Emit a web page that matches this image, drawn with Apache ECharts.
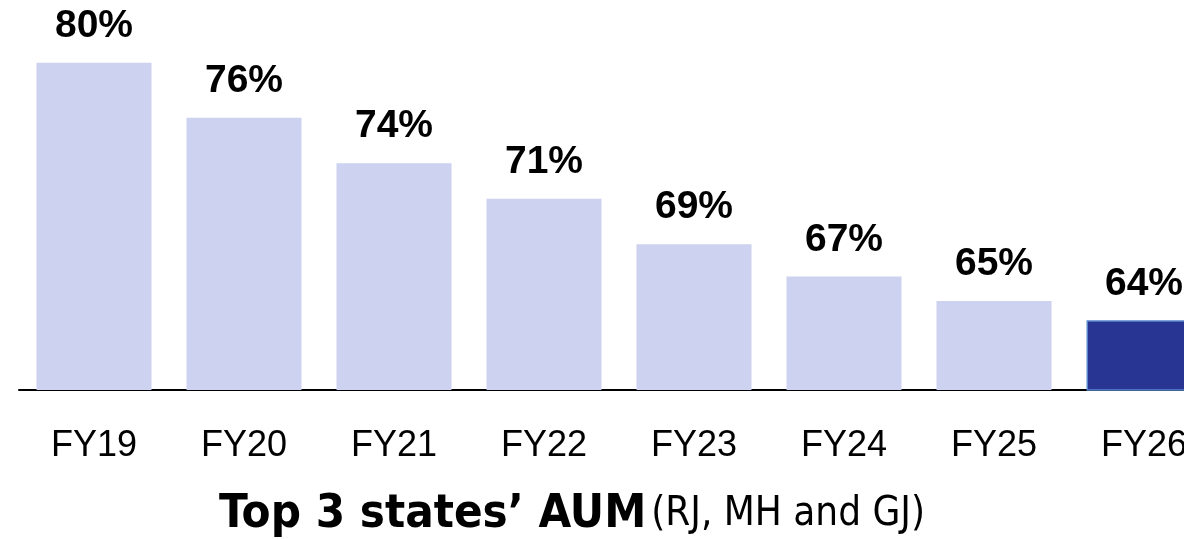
<!DOCTYPE html>
<html>
<head>
<meta charset="utf-8">
<script src="https://cdn.jsdelivr.net/npm/echarts@6/dist/echarts.min.js"></script>
<style>
  html, body { margin: 0; padding: 0; background: #fff; }
  #chart { width: 1184px; height: 539px; }
</style>
</head>
<body>
<div id="chart"></div>
<script>
// Data (labels show rounded values)
const years = ['FY19', 'FY20', 'FY21', 'FY22', 'FY23', 'FY24', 'FY25', 'FY26'];
const aumShare = [79.8, 76.4, 73.6, 71.4, 68.6, 66.6, 65.1, 63.9];
const highlightIdx = 7;

const chart = echarts.init(document.getElementById('chart'), null, { renderer: 'canvas' });

const barData = aumShare.map((v, i) => ({
  value: v,
  itemStyle: i === highlightIdx
    ? { color: '#283593', borderColor: '#5a86cc', borderWidth: 1.5 }
    : { color: '#cdd2f0' }
}));

chart.setOption({
  animation: false,
  // last category runs past the right edge, as in the source slide
  grid: { left: 19, right: -35, top: 33.6, bottom: 149, containLabel: false, outerBoundsMode: 'none' },
  title: {
    text: '{b|Top 3 states\u2019 AUM} {r|(RJ, MH and GJ)}',
    left: 567,
    textAlign: 'center',
    top: 486,
    textStyle: {
      rich: {
        b: { fontFamily: 'DejaVu Sans Condensed', fontWeight: 'bold', fontSize: 47, color: '#000' },
        r: { fontFamily: 'DejaVu Sans Condensed', fontWeight: 'normal', fontSize: 40, color: '#000' }
      }
    }
  },
  xAxis: {
    type: 'category',
    data: years,
    axisLine: { show: true, lineStyle: { color: '#000', width: 2 } },
    axisTick: { show: false },
    axisLabel: { color: '#000', fontSize: 36, fontFamily: 'Liberation Sans', margin: 38 }
  },
  yAxis: {
    type: 'value',
    min: 59.6,
    max: 81.6,
    show: false,
    splitLine: { show: false }
  },
  series: [{
    type: 'bar',
    data: barData,
    barWidth: 115,
    label: {
      show: true,
      position: 'top',
      distance: 17,
      color: '#000',
      fontSize: 39,
      fontWeight: 'bold',
      fontFamily: 'Liberation Sans',
      formatter: (p) => Math.round(p.value) + '%'
    }
  }]
});
</script>
</body>
</html>
